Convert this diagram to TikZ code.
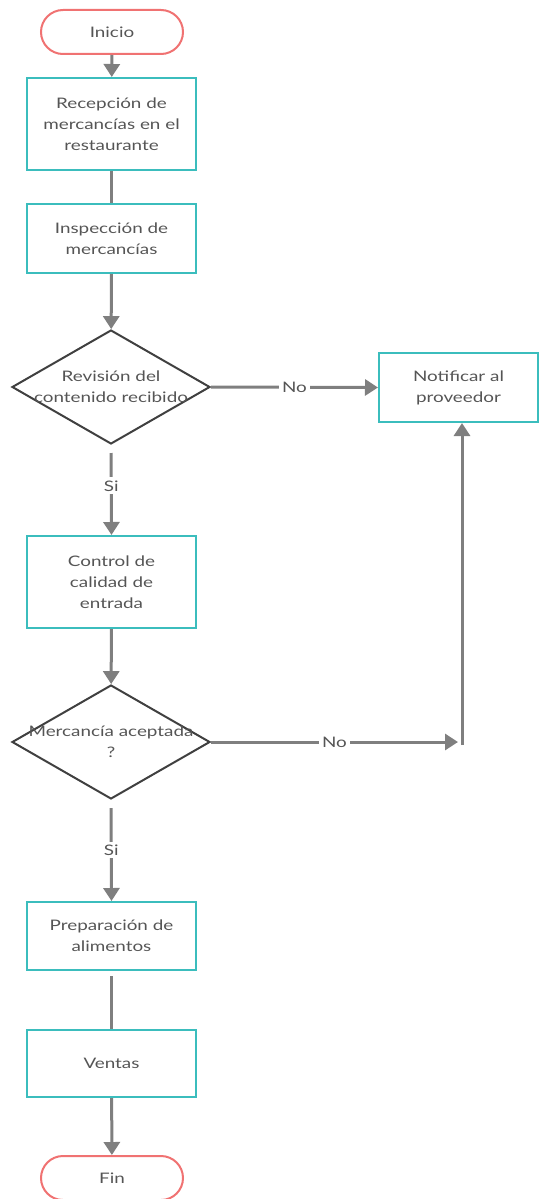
\documentclass[tikz,border=0pt]{standalone}
\usepackage{fontspec}
\setmainfont{Lato}[FakeStretch=1.3]
\usetikzlibrary{shapes.geometric,arrows.meta}
\definecolor{boxteal}{HTML}{3BBDBD}
\definecolor{termred}{HTML}{F07272}
\definecolor{arrgray}{HTML}{7F7F7F}
\definecolor{txtgray}{HTML}{555555}
\definecolor{diagray}{HTML}{404040}
\begin{document}
\begin{tikzpicture}[x=1pt,y=-1pt,
 every node/.style={font=\fontsize{14.5}{21}\selectfont, text=txtgray},
 proc/.style={draw=boxteal, line width=2pt, minimum width=169pt, align=center, inner sep=0pt},
 term/.style={draw=termred, line width=2pt, rounded corners=22pt, minimum width=142pt, minimum height=44pt},
 dec/.style={diamond, draw=diagray, line width=2pt, minimum width=198pt, minimum height=114pt, inner sep=0pt},
 arr/.style={draw=arrgray, line width=3pt, -{Triangle[width=16pt,length=13pt]}},
 ln/.style={draw=arrgray, line width=3pt},
 lbl/.style={fill=white, inner sep=3pt}
]
\useasboundingbox (0,0) rectangle (538,1199);
\node[term] (start) at (112,32) {Inicio};
\node[proc, minimum height=92pt] (recep) at (111.5,124) {Recepción de\\mercancías en el\\restaurante};
\node[proc, minimum height=69pt] (insp) at (111.5,238.5) {Inspección de\\mercancías};
\node[dec, label={[align=center]center:Revisión del\\contenido recibido}] (rev) at (111,387) {};
\node[proc, minimum width=159pt, minimum height=69pt] (notif) at (458.5,387.5) {Notificar al\\proveedor};
\node[proc, minimum height=92pt] (ctrl) at (111.5,582) {Control de\\calidad de\\entrada};
\node[dec, label={[align=center]center:Mercancía aceptada\\?}] (acc) at (111,742) {};
\node[proc, minimum height=68pt] (prep) at (111.5,936) {Preparación de\\alimentos};
\node[proc, minimum height=67pt] (vent) at (111.5,1063.5) {Ventas};
\node[term] (fin) at (112,1178) {Fin};
\coordinate (c1) at (458,742);
\coordinate (c2) at (462,745);
\draw[arr] (start) -- (recep);
\draw[ln] (recep) -- (insp);
\draw[arr] (insp) -- (rev);
\draw[arr] (rev.east) -- node[lbl]{No} (notif.west);
\draw[arr] ([yshift=-8pt]rev.south) -- node[lbl,pos=0.4]{Si} (ctrl.north);
\draw[arr] (ctrl) -- (acc);
\draw[arr] (acc.east) -- node[lbl]{No} (c1);
\draw[arr] (c2) -- (notif.south -| c2);
\draw[arr] ([yshift=-8pt]acc.south) -- node[lbl,pos=0.45]{Si} (prep.north);
\draw[ln] ([yshift=-5pt]prep.south) -- (vent.north);
\draw[arr] (vent) -- (fin);
\end{tikzpicture}
\end{document}
